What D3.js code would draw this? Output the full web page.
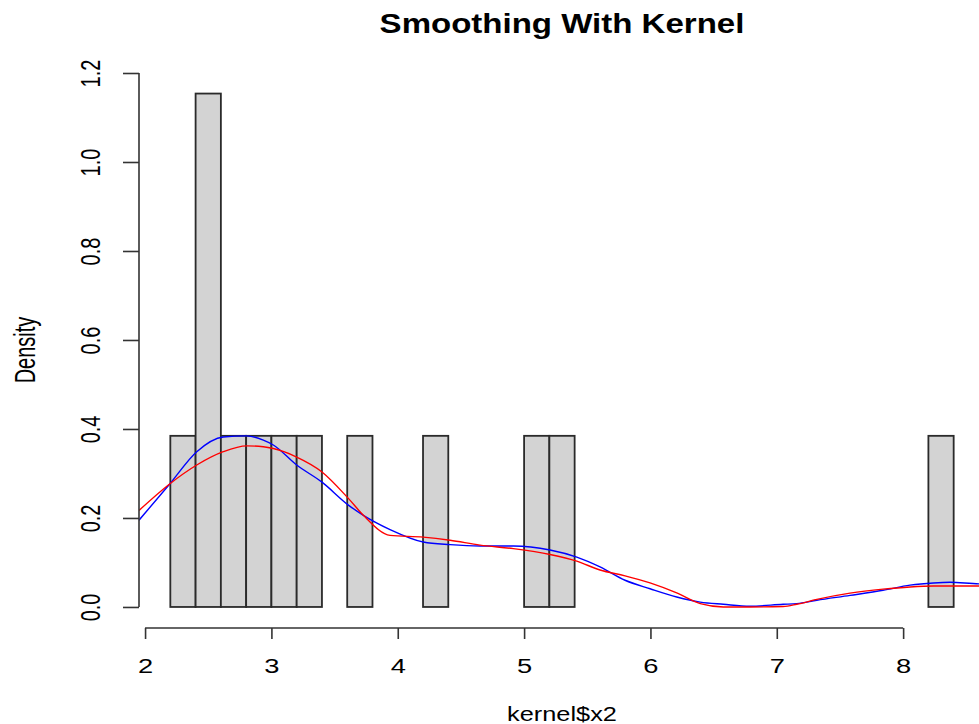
<!DOCTYPE html>
<meta charset="utf-8">
<script src="https://d3js.org/d3.v7.min.js"></script>
<style>
  body { margin: 0; background: #fff; }
  text { font-family: "Liberation Sans", Arial, sans-serif; fill: #000; }
</style>
<body>
<div id="my_dataviz"></div>
<script>
// histogram: bins of width 0.2 starting at 2.2, density per bin
var binStarts = [2.2, 2.4, 2.6, 2.8, 3.0, 3.2, 3.4, 3.6, 3.8, 4.0, 4.2, 4.4, 4.6, 4.8, 5.0, 5.2,
                 5.4, 5.6, 5.8, 6.0, 6.2, 6.4, 6.6, 6.8, 7.0, 7.2, 7.4, 7.6, 7.8, 8.0, 8.2];
var binDensity = [0.3846, 1.1538, 0.3846, 0.3846, 0.3846, 0.3846, 0, 0.3846, 0, 0, 0.3846, 0, 0, 0, 0.3846, 0.3846,
                  0, 0, 0, 0, 0, 0, 0, 0, 0, 0, 0, 0, 0, 0, 0.3846];
var binWidth = 0.2;

// kernel smooth curves
var curveX = [1.952, 2.197, 2.409, 2.619, 2.805, 2.936, 3.015, 3.200, 3.398, 3.609, 3.728, 3.939, 4.202, 4.414,
              4.651, 4.915, 5.205, 5.417, 5.601, 5.799, 5.997, 6.208, 6.394, 6.577, 6.788, 7.050, 7.158, 7.317,
              7.580, 7.841, 8.055, 8.240, 8.372, 8.601, 8.648];
var blueY = [0.195, 0.277, 0.349, 0.382, 0.3846, 0.375, 0.364, 0.319, 0.281, 0.229, 0.206, 0.174, 0.146, 0.140,
             0.137, 0.137, 0.128, 0.112, 0.090, 0.060, 0.041, 0.0225, 0.011, 0.006, 0.0015, 0.006, 0.0075, 0.015,
             0.026, 0.0375, 0.049, 0.054, 0.0555, 0.052, 0.052];
var redY = [0.217, 0.277, 0.319, 0.349, 0.362, 0.360, 0.356, 0.337, 0.304, 0.244, 0.206, 0.161, 0.157, 0.150,
            0.139, 0.131, 0.118, 0.103, 0.083, 0.070, 0.054, 0.0315, 0.0075, 0, 0, 0.001, 0.006, 0.017,
            0.031, 0.040, 0.045, 0.047, 0.047, 0.047, 0.047];

var xTicks = [2, 3, 4, 5, 6, 7, 8];
var yTicks = [0.0, 0.2, 0.4, 0.6, 0.8, 1.0, 1.2];

var W = 979, H = 724;
var plot = {left: 139, right: 985, top: 73, bottom: 627.5};

var svg = d3.select("#my_dataviz").append("svg")
  .attr("width", W).attr("height", H);

var x = d3.scaleLinear().domain([1.952, 8.648]).range([plot.left, plot.right]);
var y = d3.scaleLinear().domain([-0.04615, 1.2]).range([plot.bottom, plot.top]);

svg.append("defs").append("clipPath").attr("id", "plotclip")
  .append("rect")
    .attr("x", plot.left).attr("y", plot.top)
    .attr("width", plot.right - plot.left).attr("height", plot.bottom - plot.top);

// bars
var bins = binStarts.map(function(s, i) { return {x0: s, x1: s + binWidth, d: binDensity[i]}; });
svg.append("g").selectAll("rect")
  .data(bins)
  .enter().append("rect")
    .attr("x", function(d) { return x(d.x0); })
    .attr("y", function(d) { return y(d.d); })
    .attr("width", function(d) { return x(d.x1) - x(d.x0); })
    .attr("height", function(d) { return y(0) - y(d.d); })
    .attr("fill", "#d3d3d3")
    .attr("stroke", "#2a2a2a")
    .attr("stroke-width", 1.8);

// curves
var line = d3.line()
  .x(function(d) { return x(d[0]); })
  .y(function(d) { return y(d[1]); })
  .curve(d3.curveMonotoneX);

var g = svg.append("g").attr("clip-path", "url(#plotclip)");
g.append("path")
  .datum(curveX.map(function(v, i) { return [v, blueY[i]]; }))
  .attr("fill", "none").attr("stroke", "#0000ff").attr("stroke-width", 1.4)
  .attr("d", line);
g.append("path")
  .datum(curveX.map(function(v, i) { return [v, redY[i]]; }))
  .attr("fill", "none").attr("stroke", "#ff0000").attr("stroke-width", 1.4)
  .attr("d", line);

// x axis
var xAxis = svg.append("g")
  .attr("transform", "translate(0," + 628 + ")")
  .call(d3.axisBottom(x).tickValues(xTicks).tickSize(11).tickSizeOuter(0).tickFormat(d3.format("d")));
xAxis.select(".domain").remove();
xAxis.append("line")
  .attr("x1", x(xTicks[0])).attr("x2", x(xTicks[xTicks.length - 1]))
  .attr("stroke", "#333").attr("stroke-width", 1.6);
xAxis.selectAll(".tick line").attr("stroke", "#333").attr("stroke-width", 1.6);
xAxis.selectAll(".tick text")
  .attr("y", 45).attr("dy", null)
  .attr("transform", "scale(1.3,1)")
  .style("font-size", "21px")
  .style("font-family", "Liberation Sans, Arial, sans-serif")
  .attr("fill", "#000");

// y axis
var yAxis = svg.append("g")
  .attr("transform", "translate(" + plot.left + ",0)")
  .call(d3.axisLeft(y).tickValues(yTicks).tickSize(16).tickSizeOuter(0).tickFormat(d3.format(".1f")));
yAxis.select(".domain").remove();
yAxis.append("line")
  .attr("y1", y(yTicks[0])).attr("y2", y(yTicks[yTicks.length - 1]))
  .attr("stroke", "#333").attr("stroke-width", 1.6);
yAxis.selectAll(".tick line").attr("stroke", "#333").attr("stroke-width", 1.6);
yAxis.selectAll(".tick text")
  .attr("x", 0).attr("y", 0).attr("dy", null)
  .attr("text-anchor", "middle")
  .attr("transform", "translate(-39,0) scale(1.4,1) rotate(-90)")
  .style("font-size", "20px")
  .style("font-family", "Liberation Sans, Arial, sans-serif")
  .attr("fill", "#000");

// title and labels
svg.append("text")
  .attr("text-anchor", "middle")
  .attr("transform", "translate(562,33) scale(1.18,1)")
  .style("font-size", "28px").style("font-weight", "bold")
  .text("Smoothing With Kernel");

svg.append("text")
  .attr("text-anchor", "middle")
  .attr("transform", "translate(562,721) scale(1.3,1)")
  .style("font-size", "19.5px")
  .text("kernel$x2");

svg.append("text")
  .attr("text-anchor", "middle")
  .attr("transform", "translate(35,350) scale(1.45,1) rotate(-90)")
  .style("font-size", "20px")
  .text("Density");
</script>
</body>
